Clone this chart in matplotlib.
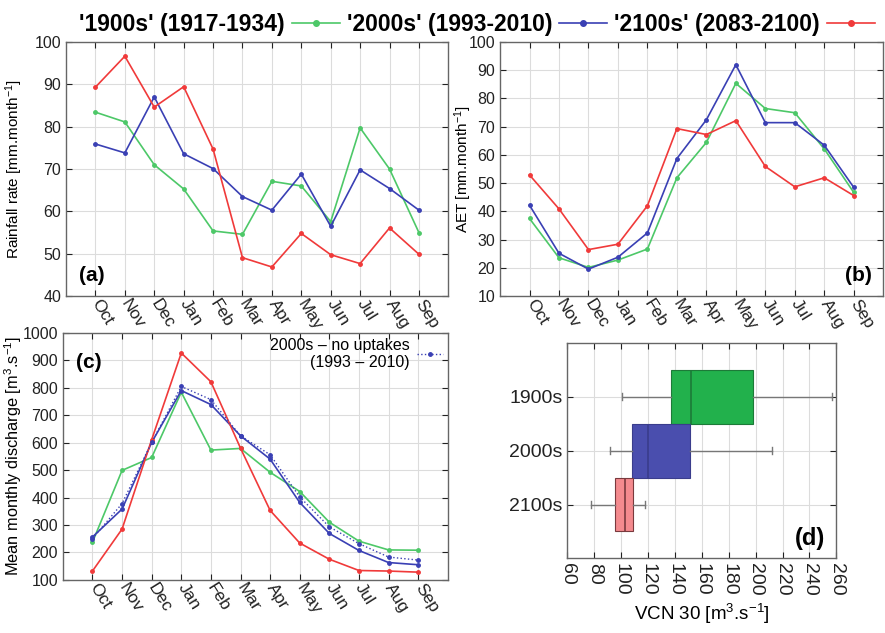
import matplotlib
matplotlib.use("Agg")
import matplotlib.pyplot as plt
from matplotlib.lines import Line2D

plt.rcParams['font.family'] = ['Liberation Sans', 'DejaVu Sans']
plt.rcParams['mathtext.default'] = 'regular'

months = ['Oct', 'Nov', 'Dec', 'Jan', 'Feb', 'Mar', 'Apr', 'May', 'Jun', 'Jul', 'Aug', 'Sep']
periods = ["'1900s' (1917-1934)", "'2000s' (1993-2010)", "'2100s' (2083-2100)"]

# (a) rainfall rate
rain_1900 = [83.4, 81.1, 71.0, 65.3, 55.4, 54.6, 67.1, 66.0, 57.6, 79.7, 70.0, 55.0]
rain_2000 = [75.9, 73.8, 87.0, 73.6, 70.1, 63.5, 60.3, 68.8, 56.5, 69.8, 65.4, 60.3]
rain_2100 = [89.3, 96.6, 84.6, 89.4, 74.7, 49.1, 46.9, 54.8, 49.8, 47.7, 56.1, 49.9]

# (b) AET
aet_1900 = [37.5, 23.6, 20.2, 22.8, 26.7, 51.9, 64.4, 85.3, 76.4, 74.9, 62.1, 46.7]
aet_2000 = [42.2, 25.2, 19.6, 23.8, 32.4, 58.7, 72.4, 91.9, 71.4, 71.4, 63.4, 48.5]
aet_2100 = [52.9, 40.9, 26.5, 28.4, 42.0, 69.3, 67.2, 72.1, 55.9, 48.7, 51.9, 45.6]

# (c) discharge
q_1900 = [237, 499, 546, 784, 573, 579, 492, 422, 310, 241, 209, 208]
q_2000 = [256, 358, 601, 790, 739, 625, 540, 382, 269, 207, 163, 155]
q_2100 = [132, 285, 611, 927, 822, 580, 353, 234, 175, 134, 132, 128]
q_2000_nouptake = [250, 378, 601, 805, 757, 625, 556, 402, 293, 232, 183, 172]

# (d) VCN30 box stats
box_labels = ['1900s', '2000s', '2100s']
vcn_whislo = [101, 92, 78]
vcn_q1 = [137, 108, 95.5]
vcn_med = [152, 120, 103]
vcn_q3 = [198, 151, 108.5]
vcn_whishi = [257, 212, 118]

c_green = '#4dc868'
c_blue = '#3a40b4'
c_red = '#f03a3a'
box_fill = ['#22b14c', '#4a4eae', '#f48a8e']
box_edge = ['#1d7a38', '#3a3d8c', '#7a3a3e']
grid_c = '#dcdcdc'
spine_c = '#666666'
FAM = ['Liberation Sans', 'DejaVu Sans']

fig = plt.figure(figsize=(8.85, 6.33), dpi=100)
ax_a = fig.add_axes([0.0746, 0.532, 0.432, 0.402])
ax_b = fig.add_axes([0.565, 0.532, 0.433, 0.402])
ax_c = fig.add_axes([0.071, 0.084, 0.435, 0.39])
ax_d = fig.add_axes([0.641, 0.118, 0.304, 0.34])


def style_axes(ax, size=11.5):
    ax.grid(True, color=grid_c, lw=0.8)
    ax.set_axisbelow(True)
    ax.tick_params(direction='in', top=True, right=True, labelsize=size,
                   colors='#222222', length=4, width=0.8)
    for s in ax.spines.values():
        s.set_color(spine_c)
        s.set_linewidth(1.0)


def month_panel(ax, series, ylim, yticks, ylabel, lab_x, lab_size=11):
    x = list(range(len(months)))
    for vals, col in zip(series, [c_green, c_blue, c_red]):
        ax.plot(x, vals, color=col, lw=1.2, marker='o', ms=2.5)
    ax.set_xlim(-1, 12)
    ax.set_ylim(*ylim)
    ax.set_yticks(yticks)
    ax.set_xticks(x)
    style_axes(ax)
    ax.set_xticklabels(months, rotation=-58, ha='left', va='center',
                       rotation_mode='anchor', fontsize=12.5, family=FAM)
    ax.set_ylabel(ylabel, fontsize=lab_size)
    ax.yaxis.set_label_coords(lab_x, 0.5)


month_panel(ax_a, [rain_1900, rain_2000, rain_2100], (40, 100), range(40, 101, 10),
            'Rainfall rate [mm.month$^{-1}$]', -0.107)
ax_a.text(0.035, 0.06, '(a)', transform=ax_a.transAxes, fontsize=15, fontweight='bold')

month_panel(ax_b, [aet_1900, aet_2000, aet_2100], (10, 100), range(10, 101, 10),
            'AET [mm.month$^{-1}$]', -0.068)
ax_b.text(0.97, 0.06, '(b)', transform=ax_b.transAxes, fontsize=15, fontweight='bold',
          ha='right')

month_panel(ax_c, [q_1900, q_2000, q_2100], (100, 1000), range(100, 1001, 100),
            'Mean monthly discharge [m$^3$.s$^{-1}$]', -0.101, lab_size=11.8)
ax_c.plot(range(len(months)), q_2000_nouptake, color=c_blue, lw=1.0, ls=':', marker='o',
          ms=2.5, label='2000s – no uptakes\n(1993 – 2010)')
ax_c.text(0.035, 0.86, '(c)', transform=ax_c.transAxes, fontsize=15, fontweight='bold')
leg_c = ax_c.legend(loc='upper right', frameon=False, markerfirst=False, fontsize=11.5,
                    handlelength=1.6, handletextpad=0.5, borderaxespad=0.1, borderpad=0.2)
for t in leg_c.get_texts():
    t.set_multialignment('right')

# (d) box plot
stats = []
for i in range(len(box_labels)):
    stats.append(dict(label=box_labels[i], whislo=vcn_whislo[i], q1=vcn_q1[i],
                      med=vcn_med[i], q3=vcn_q3[i], whishi=vcn_whishi[i]))
bp = ax_d.bxp(stats, positions=[1, 2, 3], widths=1.0, orientation='horizontal',
              showfliers=False, patch_artist=True, capwidths=0.13,
              whiskerprops=dict(color='#777777', lw=1.0),
              capprops=dict(color='#777777', lw=1.0))
for i, b in enumerate(bp['boxes']):
    b.set_facecolor(box_fill[i])
    b.set_edgecolor(box_edge[i])
    b.set_linewidth(0.8)
for i, m in enumerate(bp['medians']):
    m.set_color(box_edge[i])
    m.set_linewidth(1.2)
ax_d.set_ylim(4, 0)
ax_d.set_xlim(60, 260)
style_axes(ax_d, size=14)
ax_d.set_xticks(range(60, 261, 20))
ax_d.set_xticklabels([str(v) for v in range(60, 261, 20)], rotation=270, fontsize=14,
                     family=FAM)
ax_d.set_yticks([1, 2, 3])
ax_d.set_yticklabels(box_labels, fontsize=14, family=FAM)
ax_d.set_xlabel('VCN 30 [m$^3$.s$^{-1}$]', fontsize=13.5)
ax_d.text(0.96, 0.06, '(d)', transform=ax_d.transAxes, fontsize=17, fontweight='bold',
          ha='right')

handles = [Line2D([], [], color=c, lw=1.2, marker='o', ms=4) for c in [c_green, c_blue, c_red]]
fig.legend(handles, periods, loc='upper center', bbox_to_anchor=(0.539, 1.012), ncol=3,
           frameon=False, markerfirst=False, handlelength=2.1, columnspacing=0.3,
           handletextpad=0.3, prop=dict(size=16.5, weight='bold', family=FAM))

fig.savefig('out.png', dpi=100)
